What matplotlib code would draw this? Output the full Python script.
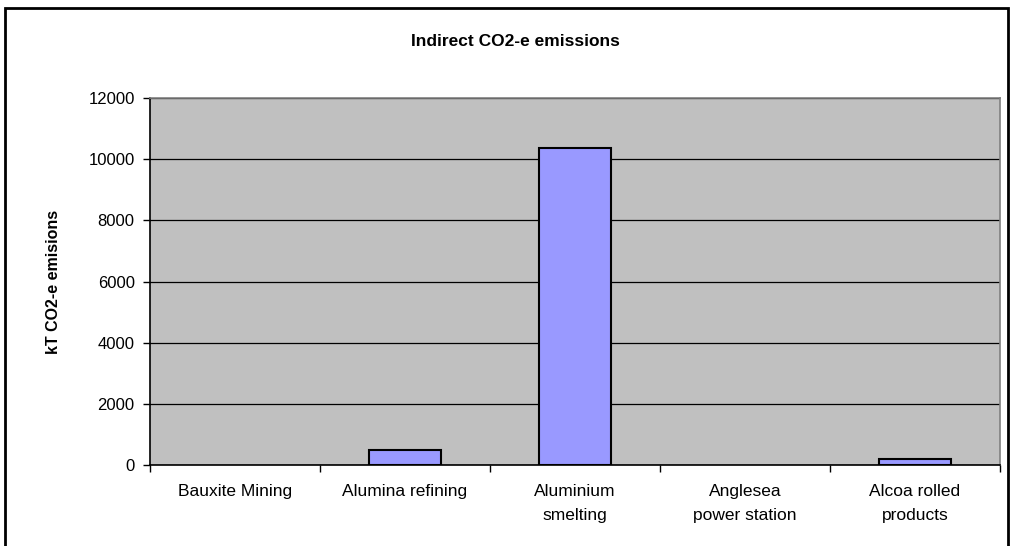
import matplotlib
matplotlib.use('Agg')
import matplotlib.pyplot as plt
from matplotlib.patches import Rectangle
from matplotlib.ticker import FixedLocator, NullFormatter
import numpy as np

plt.rcParams['font.family'] = ['Liberation Sans', 'DejaVu Sans']

categories = ['Bauxite Mining', 'Alumina refining', 'Aluminium\nsmelting',
              'Anglesea\npower station', 'Alcoa rolled\nproducts']
emissions = [0, 480, 10380, 0, 210]
y_ticks = [0, 2000, 4000, 6000, 8000, 10000, 12000]

fig = plt.figure(figsize=(10.1, 5.46), dpi=100)
ax = fig.add_axes([150 / 1010, 81 / 546, 850 / 1010, 367 / 546])

ax.set_facecolor('#C0C0C0')
x = np.arange(len(categories))
# empty categories get no outline, as in the original
edge_w = [1.5 if v > 0 else 0 for v in emissions]
ax.bar(x, emissions, width=0.42, color='#9999FF', edgecolor='black',
       linewidth=edge_w, zorder=3)

ax.set_xlim(-0.5, len(categories) - 0.5)
ax.set_ylim(0, 12000)
ax.set_yticks(y_ticks)
ax.yaxis.grid(True, color='black', linewidth=0.9, zorder=1)
ax.set_axisbelow(True)

# category labels centred, ticks at category boundaries
ax.xaxis.set_major_locator(FixedLocator(np.arange(-0.5, len(categories), 1.0)))
ax.xaxis.set_major_formatter(NullFormatter())
ax.xaxis.set_minor_locator(FixedLocator(x))
ax.set_xticklabels(categories, minor=True, fontsize=12.5, linespacing=1.75)
ax.tick_params(axis='x', which='minor', length=0, pad=14)
ax.tick_params(axis='x', which='major', length=5, width=1, direction='out')
ax.tick_params(axis='y', length=5, width=1, direction='out', labelsize=12, pad=6)

for side in ['top', 'right']:
    ax.spines[side].set_color('#808080')
    ax.spines[side].set_linewidth(1.2)
for side in ['left', 'bottom']:
    ax.spines[side].set_color('black')
    ax.spines[side].set_linewidth(1.2)

ax.set_ylabel('kT CO2-e emisions', fontsize=11.5, fontweight='bold', labelpad=20)
fig.text(0.51, 1 - 41 / 546, 'Indirect CO2-e emissions', ha='center',
         va='center', fontsize=12.5, fontweight='bold')

# outer chart frame
fig.patches.append(Rectangle((5 / 1010, -0.05), 1003 / 1010, 1.05 - 8 / 546,
                             transform=fig.transFigure, fill=False,
                             edgecolor='black', linewidth=2))

fig.savefig('out.png', dpi=100)
